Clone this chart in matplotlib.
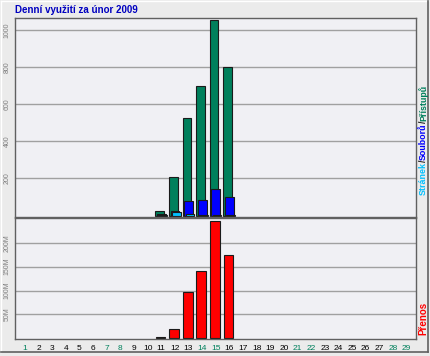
import numpy as np
import matplotlib.pyplot as plt
from matplotlib.lines import Line2D

plt.rcParams["font.family"] = ["Liberation Sans", "DejaVu Sans"]

# data (days 11-16 only have traffic)
days = list(range(1, 30))
hit_days = [11, 12, 13, 14, 15, 16]
hits = [26, 208, 527, 700, 1055, 803]       # Přístupů
files = [10, 26, 78, 85, 145, 102]          # Souborů
pages = [3, 19, 8, 3, 2, 2]                 # Stránek
kbytes = [3e6, 20e6, 97e6, 142e6, 245e6, 174e6]  # Přenos
weekend = [1, 7, 8, 14, 15, 21, 22, 28, 29]

top_ticks = [200, 400, 600, 800, 1000]
bot_ticks = [50e6, 100e6, 150e6, 200e6]
bot_labels = ["50M", "100M", "150M", "200M"]

C_HITS = "#00805c"
C_FILES = "#0000ff"
C_PAGES = "#00c0ff"
C_KB = "#ff0000"
C_WEEKEND = "#00805c"
BG = "#ebebeb"
PANEL = "#f0f0f4"
GRID = "#a0a0a0"

W, H = 431, 356
fig = plt.figure(figsize=(W / 100, H / 100), dpi=100)
fig.patch.set_facecolor(BG)

def fx(px):
    return px / W

def fy(py):
    return 1 - py / H

ax1 = fig.add_axes([fx(15), fy(217), fx(416) - fx(15), fy(18) - fy(217)])
ax2 = fig.add_axes([fx(15), fy(339), fx(416) - fx(15), fy(218) - fy(339)])

for ax in (ax1, ax2):
    ax.set_facecolor(PANEL)
    ax.set_xlim(0.27, 29.69)
    for s in ax.spines.values():
        s.set_color("#606060")
        s.set_linewidth(1)
    ax.set_axisbelow(True)
    ax.grid(axis="y", color=GRID, linewidth=1)
    ax.tick_params(axis="y", length=0, labelsize=5, labelcolor="#808080", pad=3)

bw = 0.64
ax1.bar(np.array(hit_days) - 0.12, hits, width=bw, color=C_HITS, edgecolor="#1a1a1a", linewidth=0.8)
ax1.bar(np.array(hit_days) + 0.0, files, width=bw, color=C_FILES, edgecolor="#1a1a1a", linewidth=0.8)
ax1.bar(np.array(hit_days) + 0.1, pages, width=bw, color=C_PAGES, edgecolor="#1a1a1a", linewidth=0.8)
ax1.set_ylim(-8, 1066)
ax1.set_yticks(top_ticks)
ax1.set_yticklabels([str(t) for t in top_ticks], rotation=90, va="center")
ax1.set_xticks([])

ax2.bar(np.array(hit_days) - 0.06, kbytes, width=0.72, color=C_KB, edgecolor="#1a1a1a", linewidth=0.8)
ax2.set_ylim(-1.5e6, 252e6)
ax2.set_yticks(bot_ticks)
ax2.set_yticklabels(bot_labels, rotation=90, va="center")
ax2.set_xticks(days)
ax2.set_xticklabels([str(d) for d in days])
ax2.tick_params(axis="x", length=0, labelsize=6, pad=4)
for d, lab in zip(days, ax2.get_xticklabels()):
    lab.set_color(C_WEEKEND if d in weekend else "black")

# title
fig.text(fx(15), fy(10), "Denní využití za únor 2009", color="#0000c0",
         fontsize=7, fontweight="bold", ha="left", va="center")

# right side labels, drawn piece by piece from the bottom up
fig.canvas.draw()
renderer = fig.canvas.get_renderer()
pieces = [("Stránek", C_PAGES), ("/", "#202020"), ("Souborů", C_FILES),
          ("/", "#202020"), ("Přístupů", C_HITS)]
ypos = 195
for txt, col in pieces:
    t = fig.text(fx(423.5), fy(ypos), txt, color=col, fontsize=6.4, fontweight="bold",
                 rotation=90, ha="center", va="bottom")
    bb = t.get_window_extent(renderer)
    ypos -= bb.height
fig.text(fx(423.5), fy(335), "Přenos", color=C_KB, fontsize=7, fontweight="bold",
         rotation=90, ha="center", va="bottom")

# bevelled outer frame
fig.add_artist(Line2D([fx(1), fx(1)], [fy(1), fy(352)], color="white", linewidth=1, transform=fig.transFigure))
fig.add_artist(Line2D([fx(1), fx(428)], [fy(1), fy(1)], color="white", linewidth=1, transform=fig.transFigure))
fig.add_artist(Line2D([fx(428), fx(428)], [fy(1), fy(352)], color="#606060", linewidth=1.2, transform=fig.transFigure))
fig.add_artist(Line2D([fx(1), fx(428)], [fy(352), fy(352)], color="#606060", linewidth=1.2, transform=fig.transFigure))

fig.savefig("out.png", dpi=100, facecolor=fig.get_facecolor())
